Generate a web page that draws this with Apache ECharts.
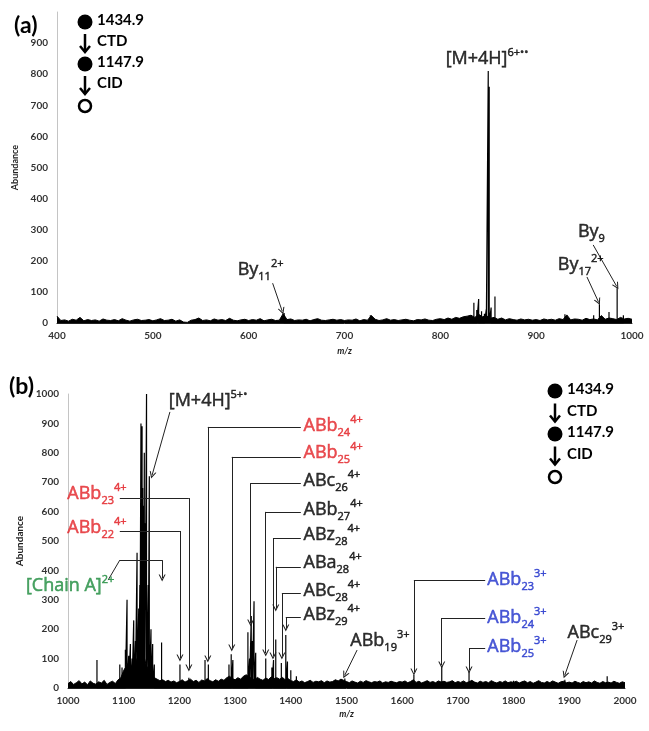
<!DOCTYPE html>
<html>
<head>
<meta charset="utf-8">
<script src="https://cdn.jsdelivr.net/npm/echarts@6/dist/echarts.min.js"></script>
<style>
html, body { margin: 0; padding: 0; background: #fff; }
#chart { width: 649px; height: 731px; }
</style>
</head>
<body>
<div id="chart"></div>
<script>
let myChart = echarts.init(document.getElementById('chart'));

// axis ranges
let aRange = [400, 1000];
let bRange = [1000, 2000];
let xStep = 100;
let yRange = [0, 1000];
let yStep = 100;

// (a) baseline noise, one value every 4 m/z from 400
let aNoiseStart = 400, aNoiseStep = 4;
let aNoise = [
  22, 8, 10, 6, 12, 9, 18, 7, 11, 8, 10, 6, 13, 9, 8, 11, 7, 14, 9, 6, 10, 12, 8, 9, 11,
  7, 10, 14, 8, 9, 12, 6, 10, 3, 2, 9, 11, 16, 8, 10, 7, 13, 9, 11, 8, 15, 9, 7, 10, 12,
  8, 11, 9, 14, 7, 10, 12, 8, 9, 30, 11, 13, 8, 10, 9, 12, 7, 11, 14, 9, 8, 10, 12, 9, 11,
  8, 10, 9, 13, 7, 11, 9, 24, 12, 8, 10, 14, 9, 11, 8, 10, 12, 9, 7, 11, 10, 13, 9, 8, 12,
  14, 11, 16, 12, 18, 15, 20, 22, 25, 18, 28, 20, 24, 15, 18, 12, 16, 10, 14, 11, 9, 13, 10, 12, 9,
  11, 8, 13, 10, 12, 9, 14, 11, 26, 10, 13, 12, 9, 15, 11, 13, 10, 24, 12, 16, 14, 11, 18, 13, 15, 12
];
// (a) peaks [m/z, abundance]
let aPeaks = [
  [637, 32], [727, 25], [835, 65], [838, 42], [840, 77], [843, 38], [846, 30], [848, 45],
  [850, 810], [851, 760], [853, 50], [857, 85], [930, 28], [960, 25], [966, 60], [976, 35],
  [984.5, 112], [991, 25]
];

// (b) baseline noise, one value every 5 m/z from 1000
let bNoiseStart = 1000, bNoiseStep = 5;
let bNoise = [
  15, 22, 12, 18, 25, 14, 20, 11, 24, 16, 13, 21, 17, 26, 12, 19, 23, 15, 28, 35,
  60, 75, 90, 70, 110, 85, 95, 120, 80, 60, 45, 35, 30, 25, 28, 22, 26, 20, 24, 18,
  22, 28, 20, 25, 30, 22, 26, 19, 27, 24, 32, 25, 21, 28, 23, 30, 26, 35, 40, 32,
  28, 35, 30, 40, 45, 38, 32, 28, 36, 30, 26, 34, 29, 38, 32, 35, 30, 36, 28, 32,
  25, 22, 28, 20, 24, 18, 22, 26, 19, 23, 21, 25, 18, 24, 20, 22, 28, 24, 30, 26,
  22, 18, 24, 20, 17, 23, 19, 25, 21, 18, 22, 20, 24, 17, 21, 19, 23, 20, 18, 22,
  20, 24, 18, 22, 28, 19, 23, 17, 21, 25, 19, 22, 18, 24, 20, 23, 19, 21, 25, 18,
  22, 19, 24, 18, 21, 26, 20, 17, 23, 19, 22, 18, 25, 20, 17, 22, 19, 24, 18, 21,
  19, 23, 17, 21, 24, 18, 22, 16, 20, 25, 19, 17, 22, 18, 24, 20, 16, 21, 23, 18,
  20, 17, 23, 19, 16, 22, 18, 21, 17, 24, 19, 16, 22, 18, 20, 17, 23, 19, 16, 21, 18
];
// (b) peaks [m/z, abundance]
let bPeaks = [
  [1052, 95], [1093, 80], [1097, 70], [1103, 130], [1106, 300], [1109, 110], [1112, 150],
  [1115, 100], [1118, 230], [1121, 160], [1124, 460], [1127, 270], [1129, 350], [1131, 900],
  [1133, 890], [1134, 680], [1136, 620], [1137, 800], [1138, 560], [1141, 1000], [1144, 350],
  [1146, 720], [1149, 200], [1152, 150], [1155, 80], [1168, 155], [1201, 80], [1217, 35],
  [1246, 95], [1252, 80], [1289, 80], [1293, 115], [1296, 95], [1323, 190], [1326, 100],
  [1329, 245], [1331, 160], [1334, 295], [1337, 120], [1355, 100], [1366, 70], [1369, 95],
  [1373, 165], [1383, 85], [1391, 180], [1394, 90], [1400, 60], [1410, 40], [1497, 32],
  [1621, 45], [1671, 75], [1720, 55], [1800, 25], [1892, 28], [1968, 40]
];

// annotations: text = [main, subscript, superscript], at = label anchor, path = leader to the peak
let aNotes = [
  {text: ['[M+4H]', '', '6+••'], kind: 'plain', at: [805, 849], side: 'right', path: []},
  {text: ['By', '11', '2+'], kind: 'plain', at: [588, 170], side: 'right', path: [[625, 128], [635, 38]]},
  {text: ['By', '17', '2+'], kind: 'plain', at: [922, 186], side: 'right', path: [[953, 148], [965, 68]]},
  {text: ['By', '9', ''], kind: 'plain', at: [943, 293], side: 'right', path: [[959.5, 251], [984, 118]]}
];
let bNotes = [
  {text: ['[M+4H]', '', '5+•'], kind: 'plain', at: [1180, 976], side: 'right', path: [[1183, 939], [1151, 724]]},
  {text: ['ABb', '23', '4+'], kind: 'b4', at: [1106, 660], side: 'left', path: [[1093, 646], [1217, 646], [1217, 68]]},
  {text: ['ABb', '22', '4+'], kind: 'b4', at: [1106, 544], side: 'left', path: [[1093, 534], [1201, 534], [1201, 102]]},
  {text: ['[Chain A]', '', '2+'], kind: 'chain', at: [1084, 347], side: 'left', path: [[1072, 367], [1093, 435], [1169, 435], [1169, 374]]},
  {text: ['ABb', '24', '4+'], kind: 'b4', at: [1422, 891], side: 'right', path: [[1418, 888], [1251, 888], [1251, 99]]},
  {text: ['ABb', '25', '4+'], kind: 'b4', at: [1422, 799], side: 'right', path: [[1418, 786], [1294, 786], [1294, 136]]},
  {text: ['ABc', '26', '4+'], kind: 'plain', at: [1422, 704], side: 'right', path: [[1418, 697], [1328, 697], [1328, 221]]},
  {text: ['ABb', '27', '4+'], kind: 'plain', at: [1422, 605], side: 'right', path: [[1418, 599], [1355, 599], [1355, 119]]},
  {text: ['ABz', '28', '4+'], kind: 'plain', at: [1422, 520], side: 'right', path: [[1418, 510], [1368, 510], [1368, 109]]},
  {text: ['ABa', '28', '4+'], kind: 'plain', at: [1422, 425], side: 'right', path: [[1418, 412], [1373, 412], [1373, 272]]},
  {text: ['ABc', '28', '4+'], kind: 'plain', at: [1422, 330], side: 'right', path: [[1418, 323], [1384, 323], [1384, 109]]},
  {text: ['ABz', '29', '4+'], kind: 'plain', at: [1422, 248], side: 'right', path: [[1418, 241], [1391, 241], [1391, 204]]},
  {text: ['ABb', '19', '3+'], kind: 'plain', at: [1506, 160], side: 'right', path: [[1519, 129], [1497, 44]]},
  {text: ['ABb', '23', '3+'], kind: 'b3', at: [1752, 367], side: 'right', path: [[1749, 367], [1621, 367], [1621, 54]]},
  {text: ['ABb', '24', '3+'], kind: 'b3', at: [1752, 238], side: 'right', path: [[1749, 238], [1671, 238], [1671, 78]]},
  {text: ['ABb', '25', '3+'], kind: 'b3', at: [1752, 139], side: 'right', path: [[1749, 136], [1720, 136], [1720, 61]]},
  {text: ['ABc', '29', '3+'], kind: 'plain', at: [1896, 187], side: 'right', path: [[1914, 163], [1892, 44]]}
];

let kindColor = {plain: '#000', b4: '#e3262a', chain: '#1f8c3e', b3: '#2233cc'};
let font = 'Lato, "Open Sans", sans-serif';
let noteFont = '"Open Sans", Lato, sans-serif';

function noiseData(noise, start, step) {
  return noise.map((v, i) => [start + i * step, v]);
}
function stickData(peaks) {
  let out = [];
  peaks.forEach((p) => {
    out.push([p[0], 0], [p[0], p[1]], [p[0], 0]);
  });
  return out;
}
// rich text with the colour set on every token (thin border of the same colour to thicken the strokes)
function richOf(color) {
  let base = {fontFamily: noteFont, color: color, textBorderColor: color, textBorderWidth: 0.5};
  return {
    m: Object.assign({fontSize: 18, lineHeight: 24}, base),
    s: Object.assign({fontSize: 11, lineHeight: 11, verticalAlign: 'bottom'}, base),
    p: Object.assign({fontSize: 11, lineHeight: 11, verticalAlign: 'top'}, base)
  };
}
function labelData(notes) {
  return notes.map((n) => {
    let f = '{m|' + n.text[0] + '}';
    if (n.text[1]) f += '{s|' + n.text[1] + '}';
    if (n.text[2]) f += '{p|' + n.text[2] + '}';
    return {
      value: n.at,
      label: {
        show: true,
        position: n.side,
        distance: 0,
        formatter: f,
        color: kindColor[n.kind],
        rich: richOf(kindColor[n.kind])
      }
    };
  });
}
// split leaders into plain segments and the final (arrow) segment
function segData(notes, last) {
  let out = [];
  notes.forEach((n) => {
    for (let i = 0; i < n.path.length - 1; i++) {
      let isLast = i === n.path.length - 2;
      if (isLast === last) out.push({coords: [n.path[i], n.path[i + 1]]});
    }
  });
  return out;
}

let chevron = 'path://M0,8L5,0L10,8L8.4,8L5,2.8L1.6,8Z';

// the precursor / CTD / CID scheme
function scheme(x, y, step) {
  let els = [];
  let txt = (t, ty) => ({
    type: 'text', left: x + 12, top: ty - 9,
    style: {text: t, fill: '#000', font: 'bold 15px ' + font}
  });
  let arrow = (ty) => [
    {type: 'line', shape: {x1: x, y1: ty - 9, x2: x, y2: ty + 9}, style: {stroke: '#000', lineWidth: 2.5}},
    {type: 'polyline', shape: {points: [[x - 5, ty + 3], [x, ty + 9], [x + 5, ty + 3]]}, style: {stroke: '#000', lineWidth: 2.5, fill: null}}
  ];
  els.push({type: 'circle', shape: {cx: x, cy: y, r: 7.5}, style: {fill: '#000'}});
  els.push(txt('1434.9', y));
  els.push(...arrow(y + step / 2));
  els.push(txt('CTD', y + step / 2));
  els.push({type: 'circle', shape: {cx: x, cy: y + step, r: 7.5}, style: {fill: '#000'}});
  els.push(txt('1147.9', y + step));
  els.push(...arrow(y + step * 1.5));
  els.push(txt('CID', y + step * 1.5));
  els.push({type: 'circle', shape: {cx: x, cy: y + step * 2, r: 6}, style: {fill: '#fff', stroke: '#000', lineWidth: 2.5}});
  return els;
}

let axisLabel = {color: '#333', fontSize: 10, fontWeight: 'bold', fontFamily: font};
let nameStyle = {color: '#222', fontSize: 10, fontWeight: 'bold', fontFamily: font};

function xAxisOf(idx, range, gap) {
  return {
    type: 'value', gridIndex: idx, min: range[0], max: range[1], interval: xStep,
    name: 'm/z', nameLocation: 'middle', nameGap: gap,
    nameTextStyle: Object.assign({}, nameStyle, {fontStyle: 'italic', fontSize: 9}),
    axisLine: {lineStyle: {color: '#222', width: 1}},
    axisTick: {show: false}, splitLine: {show: false},
    axisLabel: Object.assign({margin: 8, formatter: (v) => String(v)}, axisLabel)
  };
}
function yAxisOf(idx, gap, hideTop, nameSize) {
  return {
    type: 'value', gridIndex: idx, min: yRange[0], max: yRange[1], interval: yStep,
    name: 'Abundance', nameLocation: 'middle', nameGap: gap,
    nameTextStyle: Object.assign({}, nameStyle, {fontSize: nameSize}),
    axisLine: {show: true, lineStyle: {color: '#c4c4c4', width: 1}},
    axisTick: {show: false}, splitLine: {show: false},
    axisLabel: Object.assign({
      margin: 9,
      formatter: (v) => (hideTop && v === yRange[1]) ? '' : String(v)
    }, axisLabel)
  };
}

let series = [];
[[aNoise, aNoiseStart, aNoiseStep, aPeaks, aNotes], [bNoise, bNoiseStart, bNoiseStep, bPeaks, bNotes]].forEach((d, i) => {
  series.push({
    type: 'line', xAxisIndex: i, yAxisIndex: i, data: noiseData(d[0], d[1], d[2]),
    symbol: 'none', lineStyle: {color: '#000', width: 1}, areaStyle: {color: '#000', opacity: 1}, z: 2
  });
  series.push({
    type: 'line', xAxisIndex: i, yAxisIndex: i, data: stickData(d[3]),
    symbol: 'none', lineStyle: {color: '#000', width: 1.2}, z: 3
  });
  series.push({
    type: 'lines', coordinateSystem: 'cartesian2d', xAxisIndex: i, yAxisIndex: i,
    data: segData(d[4], false), symbol: 'none',
    lineStyle: {color: '#222', width: 1, opacity: 1}, z: 4
  });
  series.push({
    type: 'lines', coordinateSystem: 'cartesian2d', xAxisIndex: i, yAxisIndex: i,
    data: segData(d[4], true), symbol: ['none', chevron], symbolSize: [8, 7],
    lineStyle: {color: '#222', width: 1, opacity: 1}, z: 4
  });
  series.push({
    type: 'scatter', xAxisIndex: i, yAxisIndex: i, data: labelData(d[4]),
    symbolSize: 1, itemStyle: {color: 'transparent'}, silent: true, z: 5
  });
});

let option = {
  animation: false,
  backgroundColor: '#fff',
  grid: [
    {left: 57, right: 17, top: 12, bottom: 408},
    {left: 68, right: 24, top: 394, bottom: 43}
  ],
  xAxis: [xAxisOf(0, aRange, 24), xAxisOf(1, bRange, 22)],
  yAxis: [yAxisOf(0, 31, true, 9), yAxisOf(1, 33, false, 10)],
  graphic: [
    {type: 'text', left: 14, top: 14, style: {text: '(a)', fill: '#000', font: 'bold 23px ' + font}},
    {type: 'text', left: 9, top: 375, style: {text: '(b)', fill: '#000', font: 'bold 23px ' + font}}
  ].concat(scheme(85, 22, 42), scheme(555, 391, 43)),
  series: series
};
myChart.setOption(option);
</script>
</body>
</html>
